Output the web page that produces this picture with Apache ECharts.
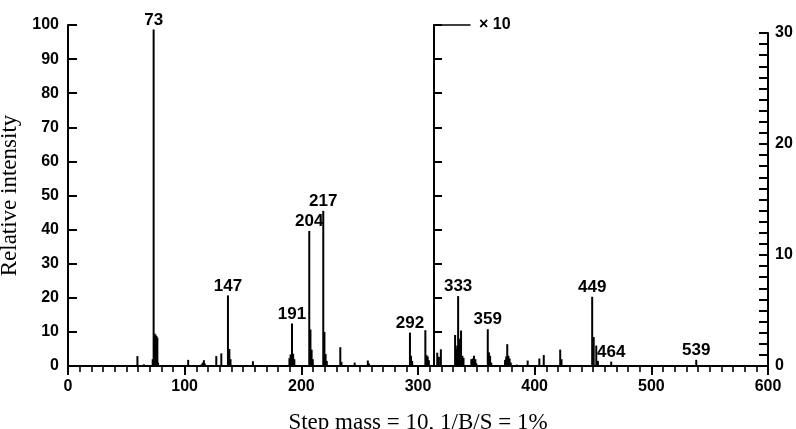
<!DOCTYPE html>
<html>
<head>
<meta charset="utf-8">
<script src="https://cdn.jsdelivr.net/npm/echarts@6/dist/echarts.min.js"></script>
<style>html,body{margin:0;padding:0;background:#fff;}#c{width:796px;height:429px;}</style>
</head>
<body>
<div id="c"></div>
<script>
// Peak positions as drawn on the mass axis, and their displayed relative intensities
// (peaks right of the "x10" line are drawn magnified ten times, as in the original).
const masses = [59.5, 65, 72.6, 73.4, 74.2, 75.0, 75.8, 76.6, 77.2, 103, 114.5, 115.5, 116.5, 117.3,
  127.1, 131.4, 137.1, 138.3, 139.3, 158.5, 189.8, 190.8, 192.0, 193.0, 194.0, 206.8, 207.8, 208.8,
  209.8, 218.8, 219.8, 220.8, 221.8, 233.4, 234.4, 245.7, 257.0, 258.0, 293.1, 294.0, 295.0, 306.3,
  307.3, 308.3, 309.3, 316.5, 317.9, 319.6, 331.8, 332.8, 333.6, 334.4, 335.6, 336.9, 338.0, 339.0,
  345.7, 346.9, 348.0, 349.2, 350.0, 359.8, 360.8, 361.8, 362.8, 374.6, 375.6, 376.5, 377.5, 378.5,
  379.5, 384.8, 394.0, 404.0, 407.8, 421.9, 423.0, 449.3, 450.6, 452.8, 454.2, 465.6, 538.5];
const intensities = [2.9, 0.5, 2.0, 98.7, 9.5, 9.2, 8.8, 8.3, 1.0, 1.8, 0.5, 1.0, 1.7, 0.7,
  2.9, 3.7, 20.7, 5.0, 2.0, 1.4, 2.3, 3.4, 12.5, 3.6, 2.0, 39.6, 10.7, 4.8,
  2.0, 45.5, 10.0, 3.5, 1.5, 5.5, 1.2, 1.0, 1.6, 0.7, 9.8, 3.0, 1.5, 10.5,
  3.2, 2.8, 1.7, 3.9, 2.7, 4.9, 9.1, 5.0, 6.0, 20.5, 8.0, 10.4, 3.0, 2.4,
  2.0, 2.2, 3.0, 2.0, 0.8, 10.8, 4.0, 3.0, 1.0, 1.8, 2.8, 6.4, 3.0, 2.2,
  1.0, 0.4, 1.6, 2.2, 3.2, 4.8, 2.0, 20.3, 8.5, 6.0, 1.5, 1.3, 1.8];
// Annotated peaks: position on axis and printed label
const labelMasses = [73.4, 137.1, 192.0, 206.8, 218.8, 293.1, 334.4, 359.8, 449.3, 465.6, 538.5];
const labelTexts = ['73', '147', '191', '204', '217', '292', '333', '359', '449', '464', '539'];
// Axis ranges / ticks
const massTicks = [0, 600, 100];
const intensityTicks = [0, 100, 10];
const sigmaTicks = [0, 30, 10];

const SANS = "'Liberation Sans Narrow', 'Liberation Sans', sans-serif";
const SERIF = "'Liberation Serif', 'DejaVu Serif', serif";
const tickFont = {color: '#000', fontFamily: SANS, fontSize: 16, fontWeight: 'bold'};

const peakData = masses.map((m, i) => [m, intensities[i]]);
const labelData = labelMasses.map((m, i) => [m, intensities[masses.indexOf(m)], labelTexts[i]]);

const chart = echarts.init(document.getElementById('c'), null, {renderer: 'canvas'});
chart.setOption({
  backgroundColor: '#fff',
  animation: false,
  grid: [
    {left: 68, right: 28, top: 25, bottom: 63, containLabel: false, outerBoundsMode: 'none'},
    {left: 434, width: 36, top: 25, bottom: 63, containLabel: false, outerBoundsMode: 'none'},
    {left: 700, right: 28, top: 33, bottom: 63, containLabel: false, outerBoundsMode: 'none'}
  ],
  xAxis: [
    {gridIndex: 0, type: 'value', min: massTicks[0], max: massTicks[1], interval: massTicks[2],
      axisLine: {show: true, onZero: false, lineStyle: {color: '#000', width: 2}},
      axisTick: {show: true, length: 9, lineStyle: {color: '#000', width: 2}},
      minorTick: {show: true, splitNumber: 10, length: 6, lineStyle: {color: '#000', width: 1.6}},
      splitLine: {show: false}, minorSplitLine: {show: false},
      axisLabel: Object.assign({margin: 13}, tickFont),
      name: 'Step mass = 10, 1/B/S = 1%', nameLocation: 'middle', nameGap: 45,
      nameTextStyle: {color: '#000', fontFamily: SERIF, fontSize: 23}},
    {gridIndex: 1, type: 'value', position: 'top', min: 0, max: 1,
      axisLine: {show: true, onZero: false, lineStyle: {color: '#000', width: 1.5}},
      axisTick: {show: false}, axisLabel: {show: false}, splitLine: {show: false},
      name: '× 10', nameLocation: 'end', nameGap: 9,
      nameTextStyle: {color: '#000', fontFamily: SANS, fontSize: 16, fontWeight: 'bold'}},
    {gridIndex: 2, type: 'value', show: false, min: 0, max: 1}
  ],
  yAxis: [
    {gridIndex: 0, type: 'value', min: intensityTicks[0], max: intensityTicks[1], interval: intensityTicks[2],
      axisLine: {show: true, onZero: false, lineStyle: {color: '#000', width: 2}},
      axisTick: {show: true, inside: true, length: 9, lineStyle: {color: '#000', width: 2}},
      splitLine: {show: false},
      axisLabel: Object.assign({margin: 9}, tickFont),
      name: 'Relative intensity', nameLocation: 'middle', nameGap: 38, nameRotate: 90,
      nameTextStyle: {color: '#000', fontFamily: SERIF, fontSize: 23}},
    {gridIndex: 1, type: 'value', min: intensityTicks[0], max: intensityTicks[1], interval: intensityTicks[2],
      axisLine: {show: true, onZero: false, lineStyle: {color: '#000', width: 2}},
      axisTick: {show: true, inside: true, length: 8, lineStyle: {color: '#000', width: 2}},
      axisLabel: {show: false}, splitLine: {show: false}},
    {gridIndex: 2, type: 'value', position: 'right', min: sigmaTicks[0], max: sigmaTicks[1], interval: sigmaTicks[2],
      axisLine: {show: true, onZero: false, lineStyle: {color: '#000', width: 2}},
      axisTick: {show: true, inside: true, length: 9, lineStyle: {color: '#000', width: 2}},
      minorTick: {show: true, splitNumber: 10, length: 9, lineStyle: {color: '#000', width: 2}},
      splitLine: {show: false}, minorSplitLine: {show: false},
      axisLabel: Object.assign({margin: 7}, tickFont)}
  ],
  series: [
    {type: 'custom', xAxisIndex: 0, yAxisIndex: 0, data: peakData, clip: false,
      renderItem: function (params, api) {
        const x = api.value(0), y = api.value(1);
        const p0 = api.coord([x, 0]);
        const p1 = api.coord([x, y]);
        return {type: 'rect', shape: {x: p1[0] - 1, y: p1[1], width: 2, height: p0[1] - p1[1]},
          style: {fill: '#000'}};
      }},
    {type: 'custom', xAxisIndex: 0, yAxisIndex: 0, data: labelData, clip: false,
      renderItem: function (params, api) {
        const x = api.value(0), y = api.value(1);
        const p = api.coord([x, y]);
        return {type: 'text', style: {text: labelData[params.dataIndex][2], x: p[0], y: p[1] - 9.5,
          textAlign: 'center', textVerticalAlign: 'middle', fill: '#000',
          font: 'bold 17px ' + SANS}};
      }}
  ]
});
</script>
</body>
</html>
